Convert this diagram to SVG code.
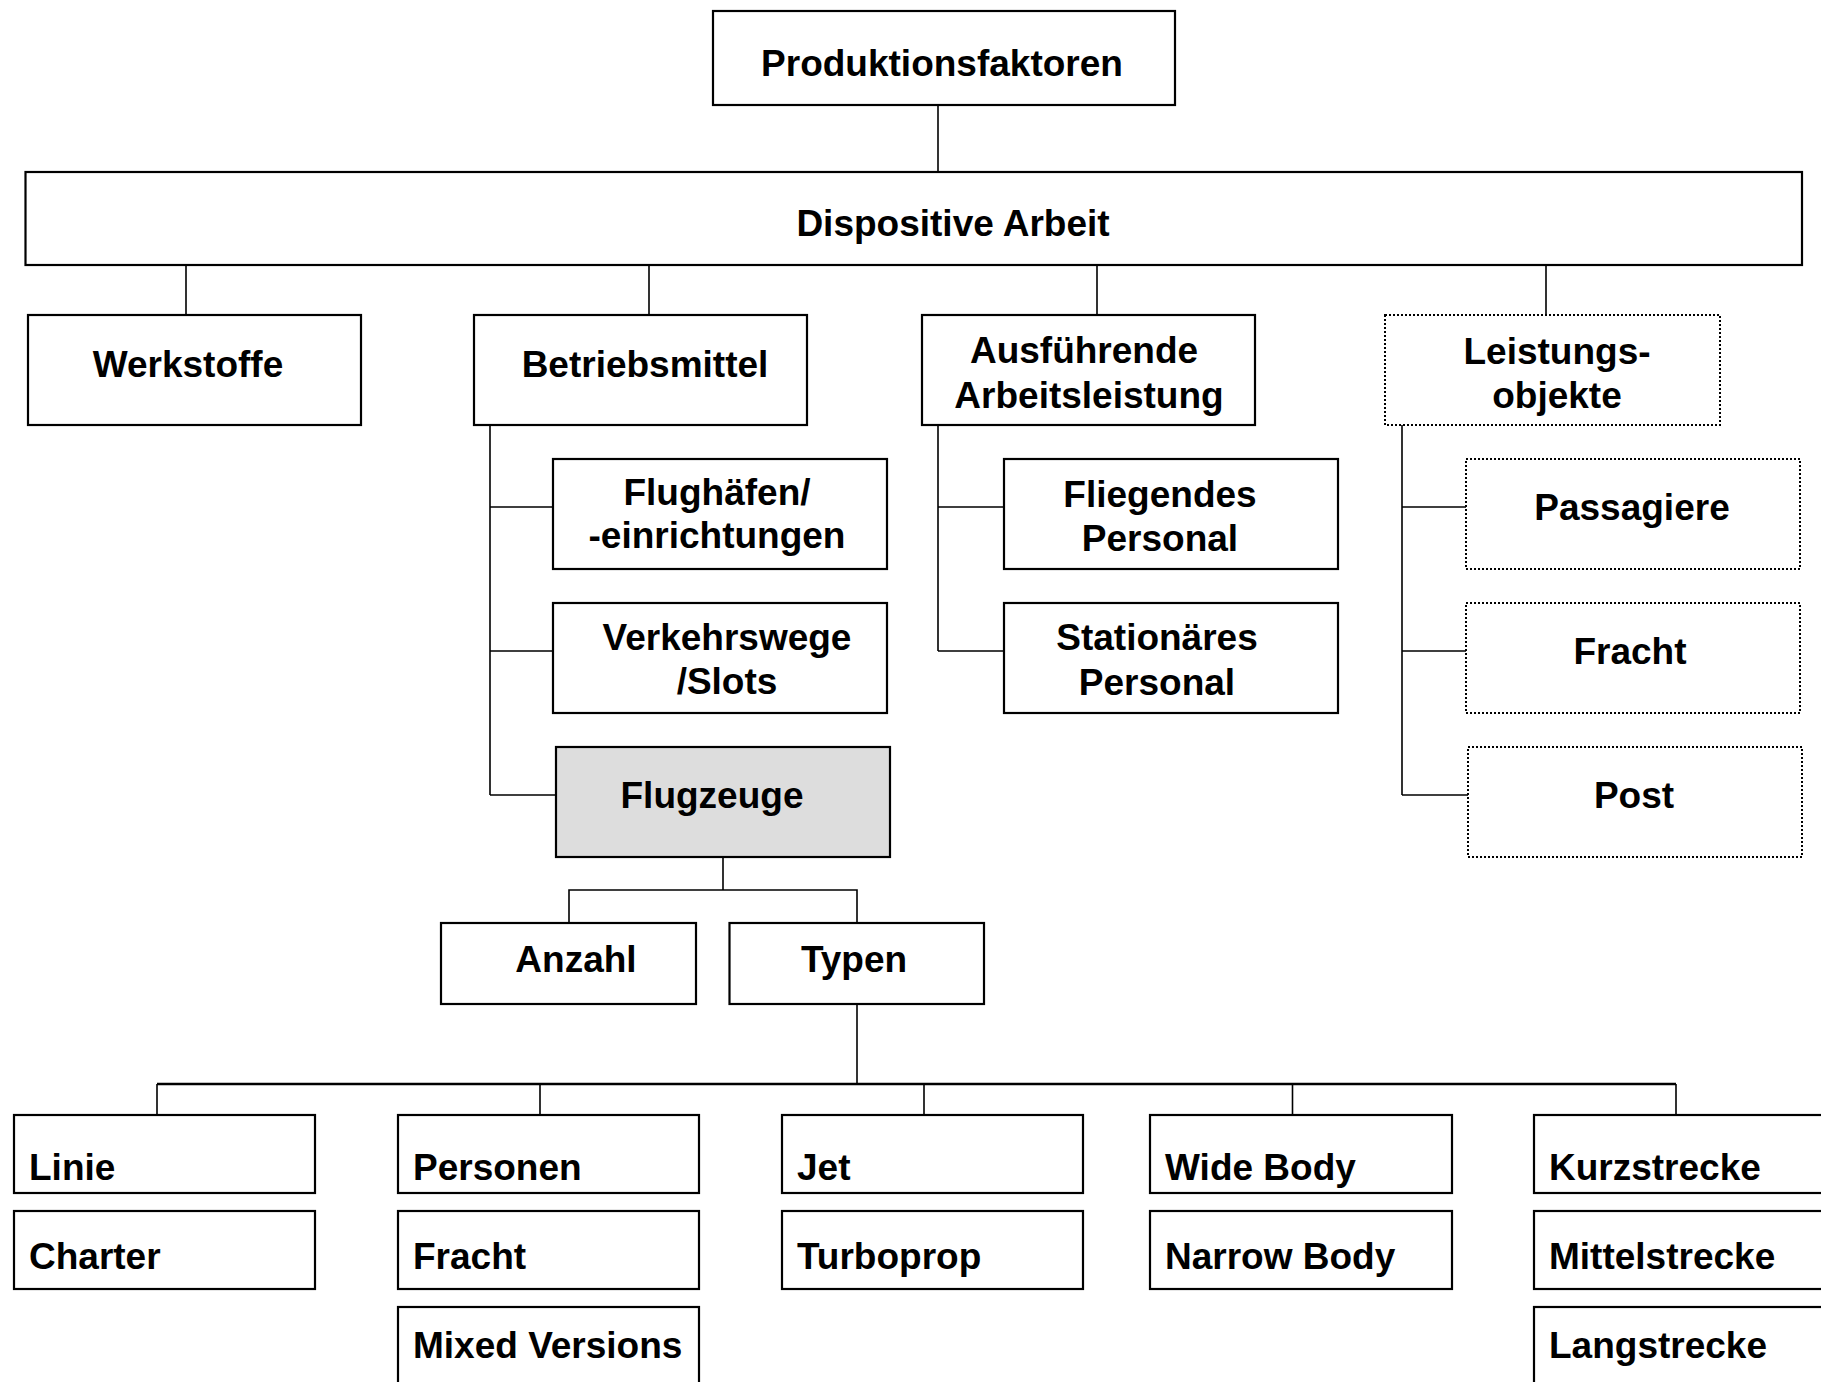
<svg xmlns="http://www.w3.org/2000/svg" width="1821" height="1382" viewBox="0 0 1821 1382">
  <style>
    .box { fill: #ffffff; stroke: #000000; stroke-width: 2.2; }
    .dot { fill: #ffffff; stroke: #000000; stroke-width: 2; stroke-dasharray: 2 2; }
    .hi { fill: #dddddd; stroke: #000000; stroke-width: 2.2; }
    .lbl { font-family: "Liberation Sans", Arial, Helvetica, sans-serif; font-weight: bold; font-size: 37px; fill: #000000; }
    .c { text-anchor: middle; }
    .l { text-anchor: start; }
    .wire { fill: none; stroke: #000000; stroke-width: 1.6; }
    .bus { fill: none; stroke: #000000; stroke-width: 2.6; }
  </style>

  <rect width="1821" height="1382" fill="#ffffff"/>

  <!-- connectors -->
  <g id="connectors">
    <path class="wire" d="M938 105 V172"/>
    <path class="wire" d="M186 265 V315 M649 265 V315 M1097 265 V315 M1546 265 V315"/>
    <!-- Betriebsmittel branch -->
    <path class="wire" d="M490 425 V795 M490 507 H553 M490 651 H553 M490 795 H556"/>
    <!-- Ausfuehrende Arbeitsleistung branch -->
    <path class="wire" d="M938 425 V651 M938 507 H1004 M938 651 H1004"/>
    <!-- Leistungsobjekte branch -->
    <path class="wire" d="M1402 425 V795 M1402 507 H1466 M1402 651 H1466 M1402 795 H1468"/>
    <!-- Flugzeuge split -->
    <path class="wire" d="M723 857 V890 M569 923 V890 H857 V923"/>
    <!-- Typen bus -->
    <path class="wire" d="M857 1004 V1084"/>
    <path class="bus" d="M157 1084 H1676"/>
    <path class="wire" d="M157 1084 V1115 M540 1084 V1115 M924 1084 V1115 M1292.5 1084 V1115 M1676 1084 V1115"/>
  </g>

  <!-- top level -->
  <g id="produktionsfaktoren">
    <rect class="box" x="713" y="11" width="462" height="94"/>
    <text class="lbl c" x="942" y="76">Produktionsfaktoren</text>
  </g>
  <g id="dispositive-arbeit">
    <rect class="box" x="25.5" y="172" width="1776.5" height="93"/>
    <text class="lbl c" x="953" y="236">Dispositive Arbeit</text>
  </g>

  <!-- second level -->
  <g id="werkstoffe">
    <rect class="box" x="28" y="315" width="333" height="110"/>
    <text class="lbl c" x="188" y="377">Werkstoffe</text>
  </g>
  <g id="betriebsmittel">
    <rect class="box" x="474" y="315" width="333" height="110"/>
    <text class="lbl c" x="645" y="377">Betriebsmittel</text>
  </g>
  <g id="ausfuehrende-arbeitsleistung">
    <rect class="box" x="922" y="315" width="333" height="110"/>
    <text class="lbl c" x="1084" y="363">Ausführende</text>
    <text class="lbl c" x="1089" y="408">Arbeitsleistung</text>
  </g>
  <g id="leistungsobjekte">
    <rect class="dot" x="1385" y="315" width="335" height="110"/>
    <text class="lbl c" x="1557" y="364">Leistungs-</text>
    <text class="lbl c" x="1557" y="408">objekte</text>
  </g>

  <!-- Betriebsmittel children -->
  <g id="flughaefen">
    <rect class="box" x="553" y="459" width="334" height="110"/>
    <text class="lbl c" x="717" y="505">Flughäfen/</text>
    <text class="lbl c" x="717" y="548">-einrichtungen</text>
  </g>
  <g id="verkehrswege">
    <rect class="box" x="553" y="603" width="334" height="110"/>
    <text class="lbl c" x="727" y="650">Verkehrswege</text>
    <text class="lbl c" x="727" y="694">/Slots</text>
  </g>
  <g id="flugzeuge">
    <rect class="hi" x="556" y="747" width="334" height="110"/>
    <text class="lbl c" x="712" y="808">Flugzeuge</text>
  </g>

  <!-- Ausfuehrende children -->
  <g id="fliegendes-personal">
    <rect class="box" x="1004" y="459" width="334" height="110"/>
    <text class="lbl c" x="1160" y="507">Fliegendes</text>
    <text class="lbl c" x="1160" y="551">Personal</text>
  </g>
  <g id="stationaeres-personal">
    <rect class="box" x="1004" y="603" width="334" height="110"/>
    <text class="lbl c" x="1157" y="650">Stationäres</text>
    <text class="lbl c" x="1157" y="695">Personal</text>
  </g>

  <!-- Leistungsobjekte children -->
  <g id="passagiere">
    <rect class="dot" x="1466" y="459" width="334" height="110"/>
    <text class="lbl c" x="1632" y="520">Passagiere</text>
  </g>
  <g id="fracht-objekt">
    <rect class="dot" x="1466" y="603" width="334" height="110"/>
    <text class="lbl c" x="1630" y="664">Fracht</text>
  </g>
  <g id="post">
    <rect class="dot" x="1468" y="747" width="334" height="110"/>
    <text class="lbl c" x="1634" y="808">Post</text>
  </g>

  <!-- Flugzeuge children -->
  <g id="anzahl">
    <rect class="box" x="441" y="923" width="255" height="81"/>
    <text class="lbl c" x="576" y="972">Anzahl</text>
  </g>
  <g id="typen">
    <rect class="box" x="729.5" y="923" width="254.5" height="81"/>
    <text class="lbl c" x="854" y="972">Typen</text>
  </g>

  <!-- type categories -->
  <g id="linie">
    <rect class="box" x="14" y="1115" width="301" height="78"/>
    <text class="lbl l" x="29" y="1180">Linie</text>
  </g>
  <g id="charter">
    <rect class="box" x="14" y="1211" width="301" height="78"/>
    <text class="lbl l" x="29" y="1269">Charter</text>
  </g>

  <g id="personen">
    <rect class="box" x="398" y="1115" width="301" height="78"/>
    <text class="lbl l" x="413" y="1180">Personen</text>
  </g>
  <g id="fracht">
    <rect class="box" x="398" y="1211" width="301" height="78"/>
    <text class="lbl l" x="413" y="1269">Fracht</text>
  </g>
  <g id="mixed-versions">
    <rect class="box" x="398" y="1307" width="301" height="90"/>
    <text class="lbl l" x="413" y="1358">Mixed Versions</text>
  </g>

  <g id="jet">
    <rect class="box" x="782" y="1115" width="301" height="78"/>
    <text class="lbl l" x="797" y="1180">Jet</text>
  </g>
  <g id="turboprop">
    <rect class="box" x="782" y="1211" width="301" height="78"/>
    <text class="lbl l" x="797" y="1269">Turboprop</text>
  </g>

  <g id="wide-body">
    <rect class="box" x="1150" y="1115" width="302" height="78"/>
    <text class="lbl l" x="1165" y="1180">Wide Body</text>
  </g>
  <g id="narrow-body">
    <rect class="box" x="1150" y="1211" width="302" height="78"/>
    <text class="lbl l" x="1165" y="1269">Narrow Body</text>
  </g>

  <g id="kurzstrecke">
    <rect class="box" x="1534" y="1115" width="302" height="78"/>
    <text class="lbl l" x="1549" y="1180">Kurzstrecke</text>
  </g>
  <g id="mittelstrecke">
    <rect class="box" x="1534" y="1211" width="302" height="78"/>
    <text class="lbl l" x="1549" y="1269">Mittelstrecke</text>
  </g>
  <g id="langstrecke">
    <rect class="box" x="1534" y="1307" width="302" height="90"/>
    <text class="lbl l" x="1549" y="1358">Langstrecke</text>
  </g>
</svg>
